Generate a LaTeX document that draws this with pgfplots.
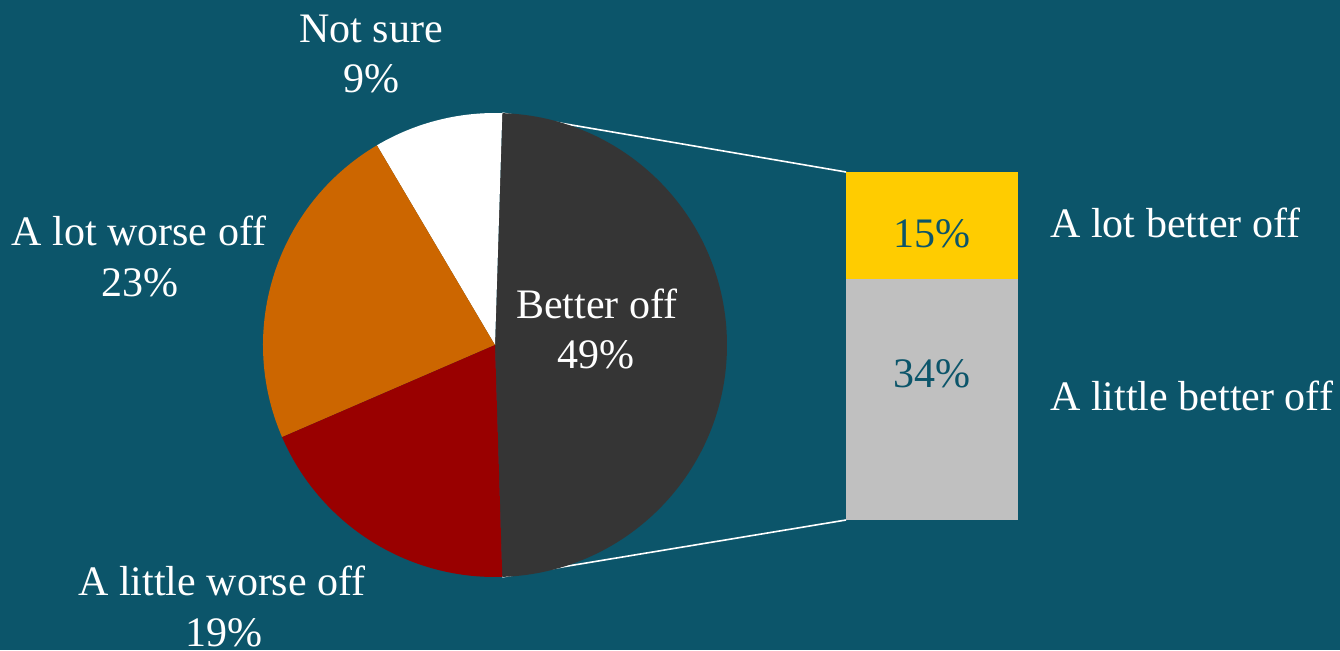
\documentclass[border=0pt]{standalone}
\usepackage{pgfplots}
\pgfplotsset{compat=1.18}
\usepackage{fontspec}
\setmainfont{Liberation Serif}

\definecolor{bg}{RGB}{12,85,106}
\definecolor{betteroff}{RGB}{53,53,53}
\definecolor{lotworse}{RGB}{204,102,0}
\definecolor{littleworse}{RGB}{153,0,0}
\definecolor{lotbetter}{RGB}{255,204,0}
\definecolor{littlebetter}{RGB}{192,192,192}

% shares in percent
\def\pBetter{49}
\def\pNotSure{9}
\def\pLotWorse{23}
\def\pLittleWorse{19}
\def\pLotBetter{15}
\def\pLittleBetter{34}

\newcommand\lab{\fontsize{21}{25}\selectfont}

\begin{document}
\begin{tikzpicture}
% slice angles, "Better off" centred on the right
\pgfmathsetmacro\aA{-\pBetter*1.8}
\pgfmathsetmacro\aB{\pBetter*1.8}
\pgfmathsetmacro\aC{\aB+\pNotSure*3.6}
\pgfmathsetmacro\aD{\aC+\pLotWorse*3.6}
\pgfmathsetmacro\aE{\aD+\pLittleWorse*3.6}

\begin{axis}[
name=pie,
at={(0,0)}, anchor=south west,
width=670pt, height=325pt, scale only axis,
xmin=0, xmax=1340, ymin=0, ymax=650,
hide axis, clip=false,
]
\fill[bg] (axis cs:0,0) rectangle (axis cs:1340,650);

% connectors to the bar (behind the pie)
\draw[white, line width=0.8pt] (axis cs:495,305) ++(\aB:116pt) -- (axis cs:846,478);
\draw[white, line width=0.8pt] (axis cs:495,305) ++(\aA:116pt) -- (axis cs:846,130);

% pie
\fill[betteroff] (axis cs:495,305) -- ++(\aA:116pt) arc[start angle=\aA, end angle=\aB, radius=116pt] -- cycle;
\fill[white] (axis cs:495,305) -- ++(\aB:116pt) arc[start angle=\aB, end angle=\aC, radius=116pt] -- cycle;
\fill[lotworse] (axis cs:495,305) -- ++(\aC:116pt) arc[start angle=\aC, end angle=\aD, radius=116pt] -- cycle;
\fill[littleworse] (axis cs:495,305) -- ++(\aD:116pt) arc[start angle=\aD, end angle=\aE, radius=116pt] -- cycle;

% pie labels
\node[anchor=base, white, font=\lab] at (axis cs:371,608) {Not sure};
\node[anchor=base, white, font=\lab] at (axis cs:371,558) {\pNotSure\%};
\node[anchor=base, white, font=\lab] at (axis cs:139,405) {A lot worse off};
\node[anchor=base, white, font=\lab] at (axis cs:140,354) {\pLotWorse\%};
\node[anchor=base, white, font=\lab] at (axis cs:597,332) {Better off};
\node[anchor=base, white, font=\lab] at (axis cs:596,282) {\pBetter\%};
\node[anchor=base, white, font=\lab] at (axis cs:222,55) {A little worse off};
\node[anchor=base, white, font=\lab] at (axis cs:224,4) {\pLittleWorse\%};

% bar category labels
\node[anchor=base west, inner xsep=0pt, white, font=\lab] at (axis cs:1050,413) {A lot better off};
\node[anchor=base west, inner xsep=0pt, white, font=\lab] at (axis cs:1050,240) {A little better off};
\end{axis}

% breakdown of "Better off"
\begin{axis}[
at={(423pt,65pt)}, anchor=south west,
width=86pt, height=174pt, scale only axis,
xmin=-0.5, xmax=0.5, ymin=0, ymax=49,
hide axis, clip=false,
ybar stacked, bar width=86pt,
]
\addplot[fill=littlebetter, draw=none] coordinates {(0,34)};
\addplot[fill=lotbetter, draw=none] coordinates {(0,15)};
\coordinate (lotb) at (axis cs:0,38.4);
\coordinate (litb) at (axis cs:0,18.6);
\end{axis}
\node[anchor=base, bg, font=\lab] at (lotb) {\pLotBetter\%};
\node[anchor=base, bg, font=\lab] at (litb) {\pLittleBetter\%};

\pgfresetboundingbox
\path (pie.south west) rectangle (pie.north east);
\end{tikzpicture}
\end{document}
